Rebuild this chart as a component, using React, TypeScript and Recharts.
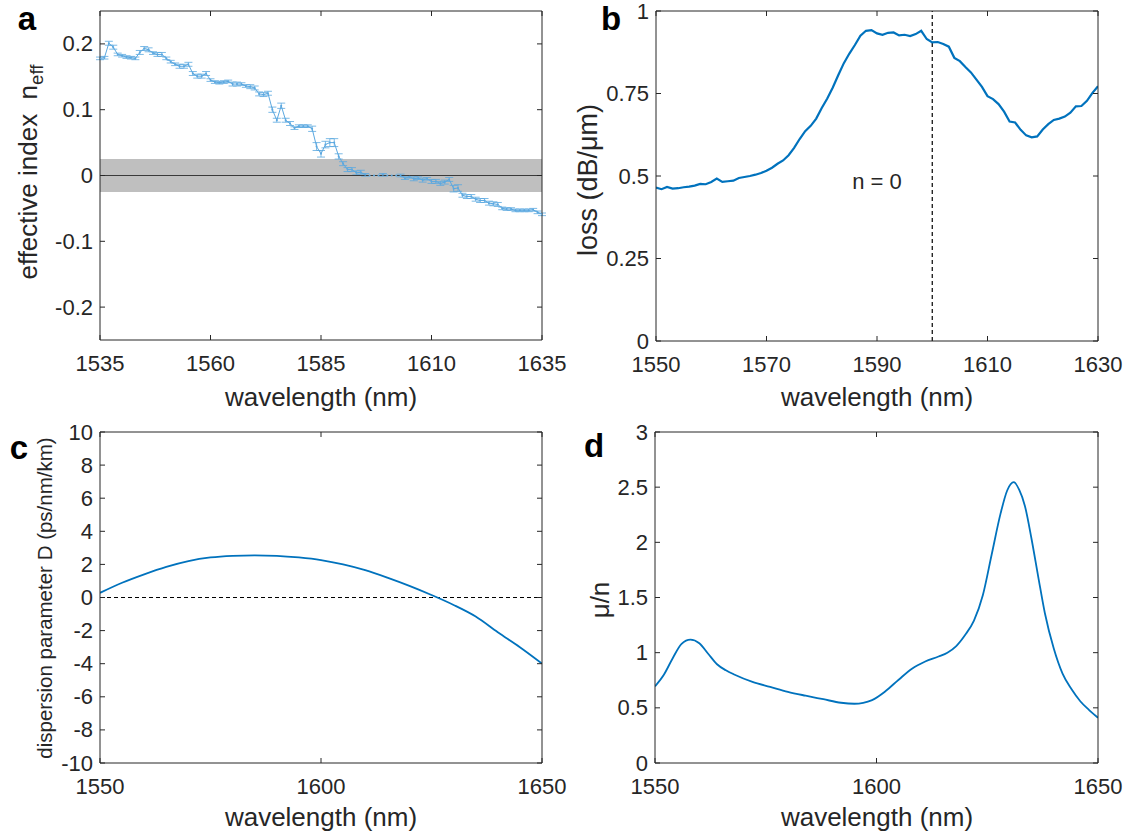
import {
  ComposedChart,
  ErrorBar,
  Line,
  ReferenceArea,
  ReferenceLine,
  XAxis,
  YAxis,
} from "recharts";

const FONT = '"Liberation Sans", Arial, Helvetica, sans-serif';
const INK = "#262626";
const BLUE = "#0072BD";
const LIGHT_BLUE = "#5BA8E0";

// panel a: effective index
const indexWl = [
  1535, 1536, 1537, 1538, 1539, 1540, 1541, 1542, 1543, 1544, 1545, 1546, 1547, 1548, 1549,
  1550, 1551, 1552, 1553, 1554, 1555, 1556, 1557, 1558, 1559, 1560, 1561, 1562, 1563, 1564,
  1565, 1566, 1567, 1568, 1569, 1570, 1571, 1572, 1573, 1574, 1575, 1576, 1577, 1578, 1579,
  1580, 1581, 1582, 1583, 1584, 1585, 1586, 1587, 1588, 1589, 1590, 1591, 1592, 1593, 1594,
  1595, 1596, 1597, 1598, 1599, 1600, 1601, 1602, 1603, 1604, 1605, 1606, 1607, 1608, 1609,
  1610, 1611, 1612, 1613, 1614, 1615, 1616, 1617, 1618, 1619, 1620, 1621, 1622, 1623, 1624,
  1625, 1626, 1627, 1628, 1629, 1630, 1631, 1632, 1633, 1634, 1635,
];
const indexValue = [
  0.178, 0.179, 0.201, 0.195, 0.184, 0.182, 0.18, 0.179, 0.178, 0.187, 0.193, 0.191, 0.186, 0.184, 0.184,
  0.178, 0.173, 0.169, 0.166, 0.166, 0.169, 0.155, 0.151, 0.151, 0.155, 0.145, 0.142, 0.141, 0.142, 0.143,
  0.139, 0.139, 0.139, 0.136, 0.135, 0.133, 0.124, 0.123, 0.125, 0.1, 0.084, 0.106, 0.084, 0.079, 0.072,
  0.075, 0.075, 0.075, 0.071, 0.044, 0.033, 0.047, 0.05, 0.05, 0.029, 0.018, 0.009, 0.009, 0.004, 0.005,
  0.001, 0.0, 0.0, 0.0, 0.001, 0.0, 0.0, 0.0, 0.0, -0.004, -0.002, -0.005, -0.004, -0.007, -0.005,
  -0.009, -0.009, -0.012, -0.01, -0.006, -0.02, -0.019, -0.03, -0.032, -0.032, -0.036, -0.038, -0.038, -0.042, -0.043,
  -0.044, -0.05, -0.051, -0.051, -0.053, -0.053, -0.053, -0.053, -0.052, -0.056, -0.059,
];
const indexError = [
  0.002, 0.002, 0.003, 0.003, 0.002, 0.002, 0.002, 0.002, 0.002, 0.003, 0.003, 0.003, 0.002, 0.003, 0.003,
  0.002, 0.002, 0.002, 0.003, 0.003, 0.003, 0.003, 0.003, 0.003, 0.003, 0.002, 0.002, 0.002, 0.002, 0.002,
  0.003, 0.003, 0.002, 0.002, 0.003, 0.003, 0.003, 0.003, 0.003, 0.004, 0.003, 0.004, 0.003, 0.003, 0.002,
  0.002, 0.002, 0.002, 0.004, 0.006, 0.005, 0.005, 0.006, 0.006, 0.004, 0.003, 0.003, 0.003, 0.003, 0.003,
  0.002, 0.0, 0.0, 0.0, 0.002, 0.0, 0.0, 0.0, 0.002, 0.002, 0.002, 0.003, 0.002, 0.003, 0.002,
  0.003, 0.003, 0.003, 0.003, 0.003, 0.005, 0.005, 0.003, 0.003, 0.003, 0.003, 0.003, 0.003, 0.003, 0.003,
  0.003, 0.002, 0.002, 0.002, 0.002, 0.002, 0.002, 0.002, 0.002, 0.002, 0.002,
];

// panel b: loss
const lossWl = [
  1550, 1551, 1552, 1553, 1554, 1555, 1556, 1557, 1558, 1559, 1560, 1561, 1562, 1563, 1564,
  1565, 1566, 1567, 1568, 1569, 1570, 1571, 1572, 1573, 1574, 1575, 1576, 1577, 1578, 1579,
  1580, 1581, 1582, 1583, 1584, 1585, 1586, 1587, 1588, 1589, 1590, 1591, 1592, 1593, 1594,
  1595, 1596, 1597, 1598, 1599, 1600, 1601, 1602, 1603, 1604, 1605, 1606, 1607, 1608, 1609,
  1610, 1611, 1612, 1613, 1614, 1615, 1616, 1617, 1618, 1619, 1620, 1621, 1622, 1623, 1624,
  1625, 1626, 1627, 1628, 1629, 1630,
];
const lossValue = [
  0.465, 0.46, 0.467, 0.462, 0.463, 0.466, 0.468, 0.471, 0.476, 0.475, 0.482, 0.492, 0.482, 0.484, 0.486,
  0.494, 0.497, 0.5, 0.504, 0.509, 0.516, 0.525, 0.537, 0.547, 0.563, 0.585, 0.612, 0.636, 0.652, 0.674,
  0.706, 0.735, 0.768, 0.806, 0.842, 0.871, 0.897, 0.925, 0.94, 0.942, 0.932, 0.928, 0.934, 0.935, 0.926,
  0.928, 0.924, 0.93, 0.94, 0.915, 0.905, 0.906, 0.9, 0.892, 0.858, 0.848, 0.83, 0.814, 0.792, 0.77,
  0.742, 0.733, 0.718, 0.695, 0.665, 0.662, 0.64, 0.623, 0.617, 0.62, 0.641, 0.657, 0.67, 0.674, 0.68,
  0.692, 0.711, 0.712, 0.728, 0.752, 0.772,
];

// panel c: dispersion
const dispWl = [
  1550, 1555, 1560, 1565, 1570, 1575, 1580, 1585, 1590, 1595, 1600, 1605, 1610, 1615, 1620,
  1625, 1630, 1635, 1640, 1645, 1650,
];
const dispValue = [
  0.28, 0.89, 1.4, 1.85, 2.2, 2.42, 2.52, 2.55, 2.52, 2.42, 2.26, 2.0, 1.65, 1.2, 0.7,
  0.15, -0.45, -1.15, -2.1, -3.0, -3.99,
];

// panel d: mu/n
const muWl = [
  1550, 1552, 1554, 1556, 1558, 1560, 1562, 1564, 1566, 1568, 1572, 1576, 1580, 1584, 1588,
  1592, 1595, 1597, 1599, 1602, 1605, 1608, 1611, 1614, 1616, 1618, 1620, 1622, 1624, 1626,
  1628, 1629.5, 1631, 1632.2, 1633.5, 1635, 1636.5, 1638, 1640, 1642, 1644, 1646, 1648, 1650,
];
const muValue = [
  0.695, 0.8, 0.95, 1.08, 1.118, 1.085, 0.99, 0.895, 0.84, 0.8, 0.735, 0.69, 0.645, 0.61, 0.578,
  0.546, 0.537, 0.545, 0.57, 0.65, 0.755, 0.855, 0.92, 0.965, 1.0, 1.06, 1.16, 1.29, 1.52, 1.89,
  2.26, 2.47, 2.545, 2.477, 2.33, 2.03, 1.69, 1.36, 1.04, 0.81, 0.67, 0.56, 0.48, 0.41,
];

const indexTicksX = [1535, 1560, 1585, 1610, 1635];
const indexTicksY = [-0.2, -0.1, 0, 0.1, 0.2];
const lossTicksX = [1550, 1570, 1590, 1610, 1630];
const lossTicksY = [0, 0.25, 0.5, 0.75, 1];
const wideTicksX = [1550, 1600, 1650];
const dispTicksY = [-10, -8, -6, -4, -2, 0, 2, 4, 6, 8, 10];
const muTicksY = [0, 0.5, 1, 1.5, 2, 2.5, 3];

const indexData = indexWl.map((wl, i) => ({ wl, n: indexValue[i], err: indexError[i] }));
const lossData = lossWl.map((wl, i) => ({ wl, v: lossValue[i] }));
const dispData = dispWl.map((wl, i) => ({ wl, v: dispValue[i] }));
const muData = muWl.map((wl, i) => ({ wl, v: muValue[i] }));

type Side = "bottom" | "top" | "left" | "right";

// matlab style: ticks point inwards, mirrored on top/right
function AxisTick(props: any) {
  const { x = 0, y = 0, payload, side } = props as { x: number; y: number; payload: any; side: Side };
  const label = String(payload?.value ?? "");
  const len = 5;
  const textStyle = { fontFamily: FONT, fontSize: 22, fill: INK };
  if (side === "bottom") {
    return (
      <g>
        <line x1={x} y1={y} x2={x} y2={y - len} stroke={INK} strokeWidth={1} />
        <text x={x} y={y + 31} textAnchor="middle" style={textStyle}>
          {label}
        </text>
      </g>
    );
  }
  if (side === "left") {
    return (
      <g>
        <line x1={x} y1={y} x2={x + len} y2={y} stroke={INK} strokeWidth={1} />
        <text x={x - 7} y={y + 7.5} textAnchor="end" style={textStyle}>
          {label}
        </text>
      </g>
    );
  }
  if (side === "top") {
    return <line x1={x} y1={y} x2={x} y2={y + len} stroke={INK} strokeWidth={1} />;
  }
  return <line x1={x} y1={y} x2={x - len} y2={y} stroke={INK} strokeWidth={1} />;
}

const axisLine = { stroke: INK, strokeWidth: 1 };

function frameAxes(xDomain: number[], yDomain: number[], xTicks: number[], yTicks: number[]) {
  return [
    <XAxis
      key="xb"
      xAxisId="bottom"
      dataKey="wl"
      type="number"
      domain={xDomain}
      ticks={xTicks}
      allowDataOverflow
      interval={0}
      height={1}
      tickSize={0}
      tickMargin={0}
      tickLine={false}
      axisLine={axisLine}
      tick={(p: any) => <AxisTick {...p} side="bottom" />}
    />,
    <XAxis
      key="xt"
      xAxisId="top"
      orientation="top"
      dataKey="wl"
      type="number"
      domain={xDomain}
      ticks={xTicks}
      allowDataOverflow
      interval={0}
      height={1}
      tickSize={0}
      tickMargin={0}
      tickLine={false}
      axisLine={axisLine}
      tick={(p: any) => <AxisTick {...p} side="top" />}
    />,
    <YAxis
      key="yl"
      yAxisId="left"
      type="number"
      domain={yDomain}
      ticks={yTicks}
      allowDataOverflow
      interval={0}
      width={1}
      tickSize={0}
      tickMargin={0}
      tickLine={false}
      axisLine={axisLine}
      tick={(p: any) => <AxisTick {...p} side="left" />}
    />,
    <YAxis
      key="yr"
      yAxisId="right"
      orientation="right"
      type="number"
      domain={yDomain}
      ticks={yTicks}
      allowDataOverflow
      interval={0}
      width={1}
      tickSize={0}
      tickMargin={0}
      tickLine={false}
      axisLine={axisLine}
      tick={(p: any) => <AxisTick {...p} side="right" />}
    />,
  ];
}

function Text({ x, y, size = 26, rotate = false, bold = false, children }: any) {
  return (
    <div
      style={{
        position: "absolute",
        left: x,
        top: y,
        transform: `translate(-50%, -50%)${rotate ? " rotate(-90deg)" : ""}`,
        whiteSpace: "nowrap",
        fontFamily: FONT,
        fontSize: size,
        fontWeight: bold ? 700 : 400,
        color: bold ? "#000" : INK,
        lineHeight: 1,
      }}
    >
      {children}
    </div>
  );
}

const ids = { xAxisId: "bottom", yAxisId: "left" };

export default function App() {
  return (
    <div style={{ position: "relative", width: 1134, height: 834, background: "#fff", overflow: "hidden" }}>
      <style>{"body{margin:0}"}</style>

      {/* a */}
      <div style={{ position: "absolute", left: 0, top: 0 }}>
        <ComposedChart
          width={570}
          height={400}
          data={indexData}
          margin={{ top: 10, right: 27, bottom: 59, left: 99 }}
        >
          {frameAxes([1535, 1635], [-0.25, 0.25], indexTicksX, indexTicksY)}
          <Line
            {...ids}
            type="linear"
            dataKey="n"
            stroke={LIGHT_BLUE}
            strokeWidth={1}
            dot={{ r: 1, fill: LIGHT_BLUE, stroke: "none" }}
            activeDot={false}
            isAnimationActive={false}
          >
            <ErrorBar dataKey="err" width={4} stroke={LIGHT_BLUE} strokeWidth={0.8} direction="y" />
          </Line>
          <ReferenceArea {...ids} y1={-0.025} y2={0.025} fill="#000" fillOpacity={0.25} stroke="none" />
          <ReferenceLine {...ids} y={0} stroke="#3a3a3a" strokeWidth={1} />
        </ComposedChart>
      </div>

      {/* b */}
      <div style={{ position: "absolute", left: 567, top: 0 }}>
        <ComposedChart
          width={567}
          height={400}
          data={lossData}
          margin={{ top: 10, right: 35, bottom: 58, left: 88 }}
        >
          {frameAxes([1550, 1630], [0, 1], lossTicksX, lossTicksY)}
          <ReferenceLine {...ids} x={1600} stroke="#000" strokeWidth={1.2} strokeDasharray="4 3" />
          <Line
            {...ids}
            type="linear"
            dataKey="v"
            stroke={BLUE}
            strokeWidth={2.2}
            dot={false}
            activeDot={false}
            isAnimationActive={false}
          />
        </ComposedChart>
      </div>

      {/* c */}
      <div style={{ position: "absolute", left: 0, top: 417 }}>
        <ComposedChart
          width={570}
          height={417}
          data={dispData}
          margin={{ top: 14, right: 27, bottom: 70, left: 99 }}
        >
          {frameAxes([1550, 1650], [-10, 10], wideTicksX, dispTicksY)}
          <ReferenceLine {...ids} y={0} stroke="#000" strokeWidth={1.2} strokeDasharray="4 3" />
          <Line
            {...ids}
            type="monotone"
            dataKey="v"
            stroke={BLUE}
            strokeWidth={1.8}
            dot={false}
            activeDot={false}
            isAnimationActive={false}
          />
        </ComposedChart>
      </div>

      {/* d */}
      <div style={{ position: "absolute", left: 567, top: 417 }}>
        <ComposedChart
          width={567}
          height={417}
          data={muData}
          margin={{ top: 14, right: 35, bottom: 70, left: 87 }}
        >
          {frameAxes([1550, 1650], [0, 3], wideTicksX, muTicksY)}
          <Line
            {...ids}
            type="monotone"
            dataKey="v"
            stroke={BLUE}
            strokeWidth={1.8}
            dot={false}
            activeDot={false}
            isAnimationActive={false}
          />
        </ComposedChart>
      </div>

      <Text x={27} y={18} size={33} bold>a</Text>
      <Text x={611} y={18} size={33} bold>b</Text>
      <Text x={19} y={447} size={33} bold>c</Text>
      <Text x={594} y={445} size={33} bold>d</Text>

      <Text x={321} y={397}>wavelength (nm)</Text>
      <Text x={877} y={397}>wavelength (nm)</Text>
      <Text x={321} y={817}>wavelength (nm)</Text>
      <Text x={877} y={817}>wavelength (nm)</Text>

      <Text x={31} y={172} rotate>
        effective index&nbsp; n<sub style={{ fontSize: "0.72em", verticalAlign: "-0.3em" }}>eff</sub>
      </Text>
      <Text x={588} y={180} size={27} rotate>loss (dB/μm)</Text>
      <Text x={45} y={598} size={20.5} rotate>dispersion parameter D (ps/nm/km)</Text>
      <Text x={600} y={600} rotate>μ/n</Text>

      <Text x={877} y={182} size={22}>n = 0</Text>
    </div>
  );
}
